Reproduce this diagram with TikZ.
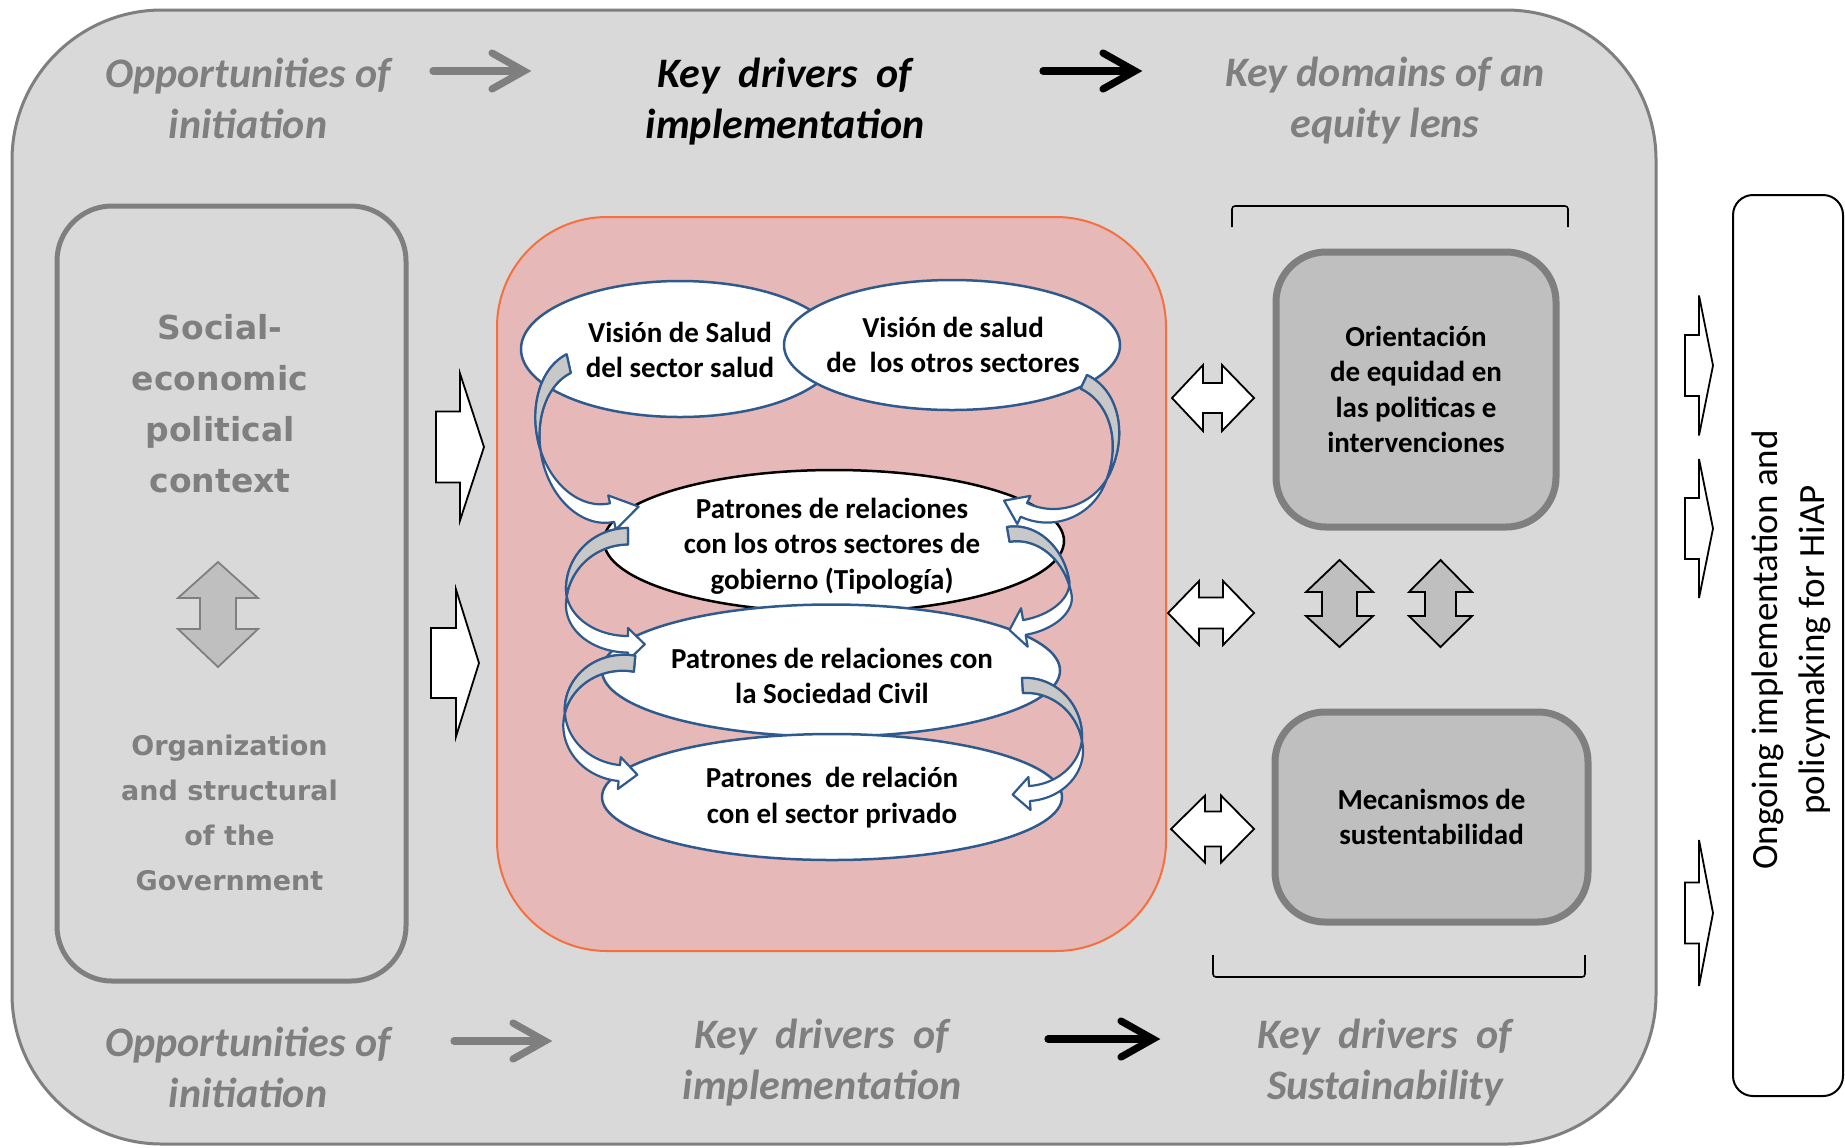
\documentclass[tikz,border=0pt]{standalone}
\usepackage{fontspec}
\setmainfont{Carlito}
\newfontfamily\ctxfont{DejaVu Sans}
\usetikzlibrary{shapes.geometric,calc}

\definecolor{panelgray}{HTML}{D9D9D9}
\definecolor{framegray}{HTML}{7F7F7F}
\definecolor{boxgray}{HTML}{BFBFBF}
\definecolor{pinkfill}{HTML}{E6B9B8}
\definecolor{pinkline}{HTML}{F4703F}
\definecolor{ovalblue}{HTML}{2F5A8E}
\definecolor{backgray}{HTML}{C8C8C8}

\tikzset{
  heading/.style={align=center, inner sep=0pt,
    font=\fontsize{21pt}{25.5pt}\selectfont\bfseries\itshape},
  ovaltext/.style={align=center, inner sep=0pt,
    font=\fontsize{14.5pt}{17.75pt}\selectfont\bfseries},
  oval/.style={ellipse, draw=ovalblue, line width=1.25pt, fill=white, inner sep=0pt},
  ctxtext/.style={align=center, inner sep=0pt, text=framegray},
  blockarrow/.style={draw=black, line width=0.9pt, fill=white, line join=miter},
  updown/.style={fill=boxgray, line width=0.9pt, line join=miter},
  curlfront/.style={fill=white, draw=ovalblue, line width=1.1pt, line join=round},
  curlback/.style={fill=backgray, draw=ovalblue, line width=1.1pt, line join=round},
  flowline/.style={line width=3.6pt, line cap=round, line join=miter},
}

% right-pointing block arrow: shaft left, head base, tip, centre y, shaft half height, head half height
\newcommand\rightblock[6]{%
  \draw[blockarrow] ({#1},{#4-#5}) -- ({#2},{#4-#5}) -- ({#2},{#4-#6}) -- ({#3},{#4})
    -- ({#2},{#4+#6}) -- ({#2},{#4+#5}) -- ({#1},{#4+#5}) -- cycle;}

% left-right block arrow: left tip, left head base, right head base, right tip, centre y, shaft half, head half
\newcommand\lrblock[7]{%
  \draw[blockarrow] ({#1},{#5}) -- ({#2},{#5-#7}) -- ({#2},{#5-#6}) -- ({#3},{#5-#6})
    -- ({#3},{#5-#7}) -- ({#4},{#5}) -- ({#3},{#5+#7}) -- ({#3},{#5+#6})
    -- ({#2},{#5+#6}) -- ({#2},{#5+#7}) -- cycle;}

% up-down block arrow: style, centre x, top, top head base, bottom head base, bottom, shaft half, head half
\newcommand\udblock[8]{%
  \draw[#1] ({#2},{#3}) -- ({#2+#8},{#4}) -- ({#2+#7},{#4}) -- ({#2+#7},{#5})
    -- ({#2+#8},{#5}) -- ({#2},{#6}) -- ({#2-#8},{#5}) -- ({#2-#7},{#5})
    -- ({#2-#7},{#4}) -- ({#2-#8},{#4}) -- cycle;}

% curled ribbon arrow: origin x, origin y, rotation, x radius (signed), upper radius,
% lower radius, start angle, ribbon width, head length (in x radii)
\newcommand\curlbarb{8}
\newcommand\curlarrow[9]{%
  \begin{scope}[shift={(#1,#2)}, rotate=#3, xscale=#4, yscale=-1]
    \pgfmathsetmacro\crossang{asin(#8/(#5+#6))}
    \pgfmathsetmacro\angA{180+\crossang}
    \pgfmathsetmacro\angB{180-\crossang}
    \filldraw[curlfront]
      plot[domain=#7:180, samples=30] ({cos(\x)},{#5*sin(\x)})
      -- plot[domain=180:270, samples=30] ({cos(\x)},{#6*sin(\x)})
      -- (0,{-#6+\curlbarb}) -- ({#9},{-#6-#8/2}) -- (0,{-#6-#8-\curlbarb})
      -- plot[domain=270:180, samples=30] ({cos(\x)},{#6*sin(\x)-#8})
      -- plot[domain=180:#7, samples=30] ({cos(\x)},{#5*sin(\x)-#8})
      -- cycle;
    \filldraw[curlback]
      plot[domain=#7:180, samples=30] ({cos(\x)},{#5*sin(\x)})
      -- plot[domain=180:\angA, samples=6] ({cos(\x)},{#6*sin(\x)})
      -- plot[domain=\angB:#7, samples=30] ({cos(\x)},{#5*sin(\x)-#8})
      -- cycle;
  \end{scope}}

% thick arrow with an open chevron head
\newcommand\flowarrow[3]{%
  \draw[flowline, #1] (#2) -- ($(#3)+(-6,0)$);
  \draw[flowline, #1] ($(#3)+(-32,-18)$) -- (#3) -- ($(#3)+(-32,18)$);}

\begin{document}
\begin{tikzpicture}[x=0.5pt, y=-0.5pt]
\useasboundingbox (0,0) rectangle (1845,1147);
\fill[white] (0,0) rectangle (1845,1147);

% outer panel
\node[draw=framegray, fill=panelgray, line width=1.5pt, rounded corners=75pt,
      minimum width=822pt, minimum height=567pt, inner sep=0pt] (panel) at (834,577) {};

% context box
\node[draw=framegray, line width=2.5pt, rounded corners=27.5pt,
      minimum width=174.5pt, minimum height=387.5pt, inner sep=0pt] (context) at (231.5,593.5) {};
\node[ctxtext, font=\ctxfont\fontsize{16.5pt}{25.5pt}\selectfont\bfseries] (context-top) at (220,404)
  {Social-\\economic\\political\\context};
\node[ctxtext, font=\ctxfont\fontsize{13.5pt}{22.5pt}\selectfont\bfseries] (context-bot) at (229.5,812.5)
  {Organization\\and structural\\of the\\Government};
\udblock{updown, draw=framegray}{218}{562}{598}{629}{667}{18}{40}

% block arrows into the drivers panel
\rightblock{436}{460}{484}{447}{35.5}{73.5}
\rightblock{431}{456}{479}{663}{35}{73.5}

% drivers panel
\node[draw=pinkline, fill=pinkfill, line width=1pt, rounded corners=55pt,
      minimum width=334.5pt, minimum height=367pt, inner sep=0pt] (drivers) at (831.5,584) {};

% ovals
\node[oval, minimum width=159pt, minimum height=68pt] (salud) at (680,349) {};
\node[ovaltext] (salud-t) at (680,350) {Visión de Salud\\del sector salud};
\node[oval, minimum width=168pt, minimum height=65pt] (otros) at (952,345) {};
\node[ovaltext] (otros-t) at (953,345) {Visión de salud\\de~ los otros sectores};
\node[oval, draw=black, minimum width=230pt, minimum height=71pt] (gobierno) at (834,541) {};
\node[ovaltext] (gobierno-t) at (832,546) {Patrones de relaciones\\con los otros sectores de\\gobierno (Tipología)};
\node[oval, minimum width=229pt, minimum height=66pt] (civil) at (831,670.5) {};
\node[ovaltext] (civil-t) at (832,676) {Patrones de relaciones con\\la Sociedad Civil};
\node[oval, minimum width=230pt, minimum height=63pt] (privado) at (832,797) {};
\node[ovaltext] (privado-t) at (832,797.5) {Patrones~ de relación\\con el sector privado};

% curled arrows, left side
\curlarrow{593.3}{428.6}{12.6}{56.7}{79.5}{76.5}{100}{19}{0.48}
\curlarrow{628}{589}{0}{62}{61}{47}{90}{16.5}{0.27}
\curlarrow{625}{710.5}{-5.2}{60.3}{55.7}{54.8}{85}{16}{0.3}
% curled arrows, right side
\curlarrow{1053.5}{446.6}{-25.1}{-62.4}{79}{62.4}{90}{15}{0.35}
\renewcommand\curlbarb{12}
\curlarrow{1017.7}{588.9}{9.8}{-52.1}{62.8}{31.6}{90}{15}{0.29}
\renewcommand\curlbarb{9}
\curlarrow{1025.8}{736.6}{3.7}{-56.3}{58.7}{49.5}{90}{15}{0.3}

% links to the equity domains
\lrblock{1172}{1203}{1222}{1254}{398}{15}{33}
\lrblock{1168}{1199}{1223}{1254}{613}{15.5}{32}
\lrblock{1171}{1205}{1221}{1254}{829}{17.5}{33.5}
\udblock{updown, draw=black}{1339.5}{560}{592}{616}{647}{17.5}{33.5}
\udblock{updown, draw=black}{1440.5}{560}{592}{616}{647}{15.5}{31.5}

% equity domain boxes
\node[draw=framegray, fill=boxgray, line width=3.5pt, rounded corners=25pt,
      minimum width=140pt, minimum height=137.5pt, inner sep=0pt, ovaltext] (equidad) at (1416,389.5)
  {Orientación\\de equidad en\\las politicas e\\intervenciones};
\node[draw=framegray, fill=boxgray, line width=3.5pt, rounded corners=25pt,
      minimum width=156.5pt, minimum height=105pt, inner sep=0pt, ovaltext] (mecanismos) at (1431.5,817)
  {Mecanismos de\\sustentabilidad};

% brackets
\draw[line width=0.8pt, rounded corners=1.5pt] (1232,227) -- (1232,206) -- (1568,206) -- (1568,227);
\draw[line width=0.8pt, rounded corners=1.5pt] (1213,955) -- (1213,977) -- (1585,977) -- (1585,955);

% outputs to ongoing implementation
\rightblock{1685}{1699}{1713}{365.5}{30.5}{70}
\rightblock{1685}{1699}{1713}{528.5}{30.5}{69.5}
\rightblock{1685}{1699}{1713}{913}{30.5}{73}
\node[draw=black, fill=white, line width=1pt, rounded corners=10pt,
      minimum width=55pt, minimum height=450.5pt, inner sep=0pt] (ongoing) at (1788,645.5) {};
\node[rotate=90, align=center, inner sep=0pt, font=\fontsize{18.5pt}{23.5pt}\selectfont] (ongoing-t) at (1791,650)
  {Ongoing implementation and\\policymaking for HiAP};

% headings
\node[heading, text=framegray] (init-top) at (248,98) {Opportunities of\\initiation};
\node[heading] (impl-top) at (785,102) {Key~ drivers~ of\\implementation};
\node[heading, text=framegray] (equity-top) at (1385,101) {Key domains of an\\equity lens};
\node[heading, text=framegray] (init-bot) at (248,1067) {Opportunities of\\initiation};
\node[heading, text=framegray] (impl-bot) at (822,1063) {Key~ drivers~ of\\implementation};
\node[heading, text=framegray] (sust-bot) at (1385,1063) {Key~ drivers~ of\\Sustainability};

% heading arrows
\coordinate (ft1a) at (433,71);   \coordinate (ft1b) at (524,71);
\coordinate (ft2a) at (1043,71);  \coordinate (ft2b) at (1135,71);
\coordinate (fb1a) at (454,1041); \coordinate (fb1b) at (545,1041);
\coordinate (fb2a) at (1048,1039);\coordinate (fb2b) at (1153,1039);
\flowarrow{framegray}{ft1a}{ft1b}
\flowarrow{black}{ft2a}{ft2b}
\flowarrow{framegray}{fb1a}{fb1b}
\flowarrow{black}{fb2a}{fb2b}
\end{tikzpicture}
\end{document}
